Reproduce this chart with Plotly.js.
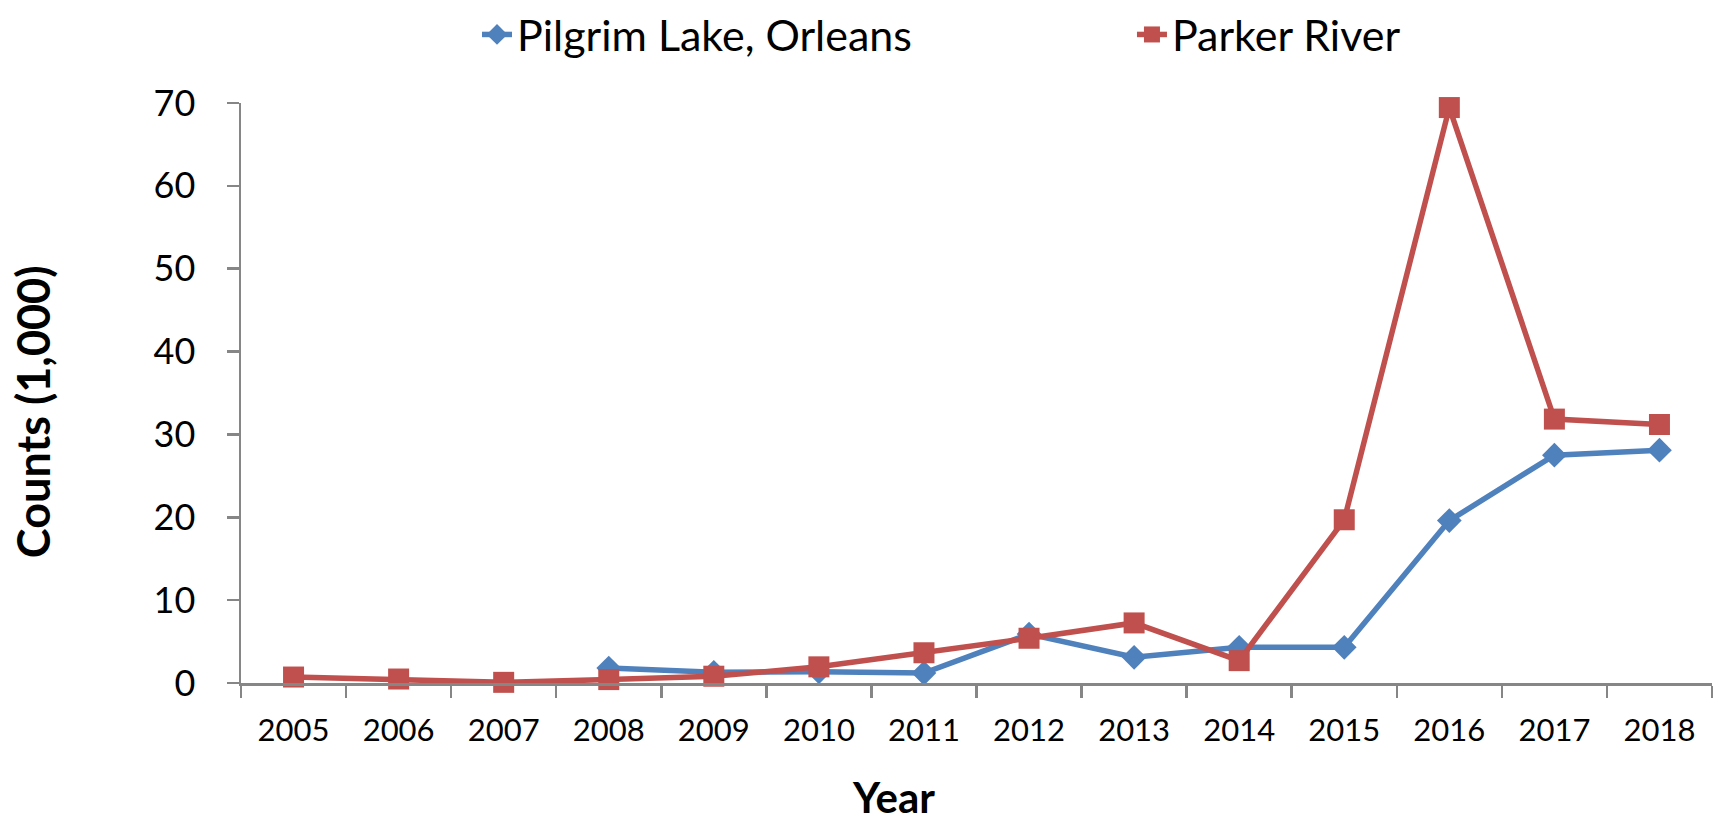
<!DOCTYPE html>
<html>
<head>
<meta charset="utf-8">
<script src="https://cdn.plot.ly/plotly-3.0.1.min.js"></script>
<style>
  html, body { margin: 0; padding: 0; background: #ffffff; }
  #chart { width: 1719px; height: 825px; }
</style>
</head>
<body>
<div id="chart"></div>
<script>
// ---- Data (counts in thousands) ----
const years = ['2005','2006','2007','2008','2009','2010','2011','2012','2013','2014','2015','2016','2017','2018'];

const pilgrimYears = ['2008','2009','2010','2011','2012','2013','2014','2015','2016','2017','2018'];
const pilgrimValues = [1.8, 1.3, 1.35, 1.2, 5.9, 3.1, 4.3, 4.3, 19.6, 27.5, 28.1];

const parkerYears = years;
const parkerValues = [0.72, 0.48, 0.08, 0.41, 0.82, 1.95, 3.65, 5.4, 7.25, 2.7, 19.7, 69.45, 31.85, 31.2];

const seriesNames = ['Pilgrim Lake, Orleans', 'Parker River'];
const yTicks = [0, 10, 20, 30, 40, 50, 60, 70];

const FONT = "Lato, 'Open Sans', sans-serif";
const AXIS_GRAY = '#868686';

const traces = [
  {
    x: pilgrimYears, y: pilgrimValues, name: seriesNames[0], legend: 'legend',
    type: 'scatter', mode: 'lines+markers', cliponaxis: false,
    line: { color: '#4F81BD', width: 5.5 },
    marker: { symbol: 'diamond', size: 19, color: '#4F81BD', line: { width: 0 } }
  },
  {
    x: parkerYears, y: parkerValues, name: seriesNames[1], legend: 'legend2',
    type: 'scatter', mode: 'lines+markers', cliponaxis: false,
    line: { color: '#C0504D', width: 5.5 },
    marker: { symbol: 'square', size: 21, color: '#C0504D', line: { width: 0 } }
  }
];

const legendBase = {
  orientation: 'h', xref: 'container', yref: 'container',
  xanchor: 'left', y: 1, yanchor: 'top',
  font: { family: FONT, size: 43, color: '#000000' },
  bgcolor: 'rgba(0,0,0,0)', borderwidth: 0
};

const layout = {
  width: 1719, height: 825,
  paper_bgcolor: '#ffffff', plot_bgcolor: '#ffffff',
  font: { family: FONT, color: '#000000' },
  margin: { l: 241, r: 7, t: 103, b: 142, pad: 0, autoexpand: false },
  showlegend: true,
  legend: Object.assign({}, legendBase, { x: 0.2775 }),
  legend2: Object.assign({}, legendBase, { x: 0.6585 }),
  xaxis: {
    type: 'category', categoryorder: 'array', categoryarray: years,
    range: [-0.5, 13.5], tickson: 'boundaries',
    showgrid: false, zeroline: false,
    showline: true, linecolor: AXIS_GRAY, linewidth: 2.5,
    ticks: 'outside', ticklen: 12, tickwidth: 2.5, tickcolor: AXIS_GRAY,
    ticklabelstandoff: 18,
    tickfont: { family: FONT, size: 31, color: '#000000' }
  },
  yaxis: {
    range: [0, 70], tickvals: yTicks, ticktext: yTicks.map(String),
    showgrid: false, zeroline: false,
    showline: true, linecolor: AXIS_GRAY, linewidth: 2.5,
    ticks: 'outside', ticklen: 12, tickwidth: 2.5, tickcolor: AXIS_GRAY,
    ticklabelstandoff: 24,
    tickfont: { family: FONT, size: 36, color: '#000000' }
  },
  annotations: [
    {
      text: '<b>Year</b>', xref: 'paper', yref: 'paper',
      x: 0.4438, y: -0.2423, xanchor: 'center', yanchor: 'bottom',
      showarrow: false, font: { family: FONT, size: 42, color: '#000000' }
    },
    {
      text: '<b>Counts (1,000)</b>', xref: 'paper', yref: 'paper', textangle: -90,
      x: -0.1414, y: 0.467, xanchor: 'center', yanchor: 'middle',
      showarrow: false, font: { family: FONT, size: 45, color: '#000000' }
    }
  ]
};

Plotly.newPlot('chart', traces, layout, { displayModeBar: false, staticPlot: true });
</script>
</body>
</html>
